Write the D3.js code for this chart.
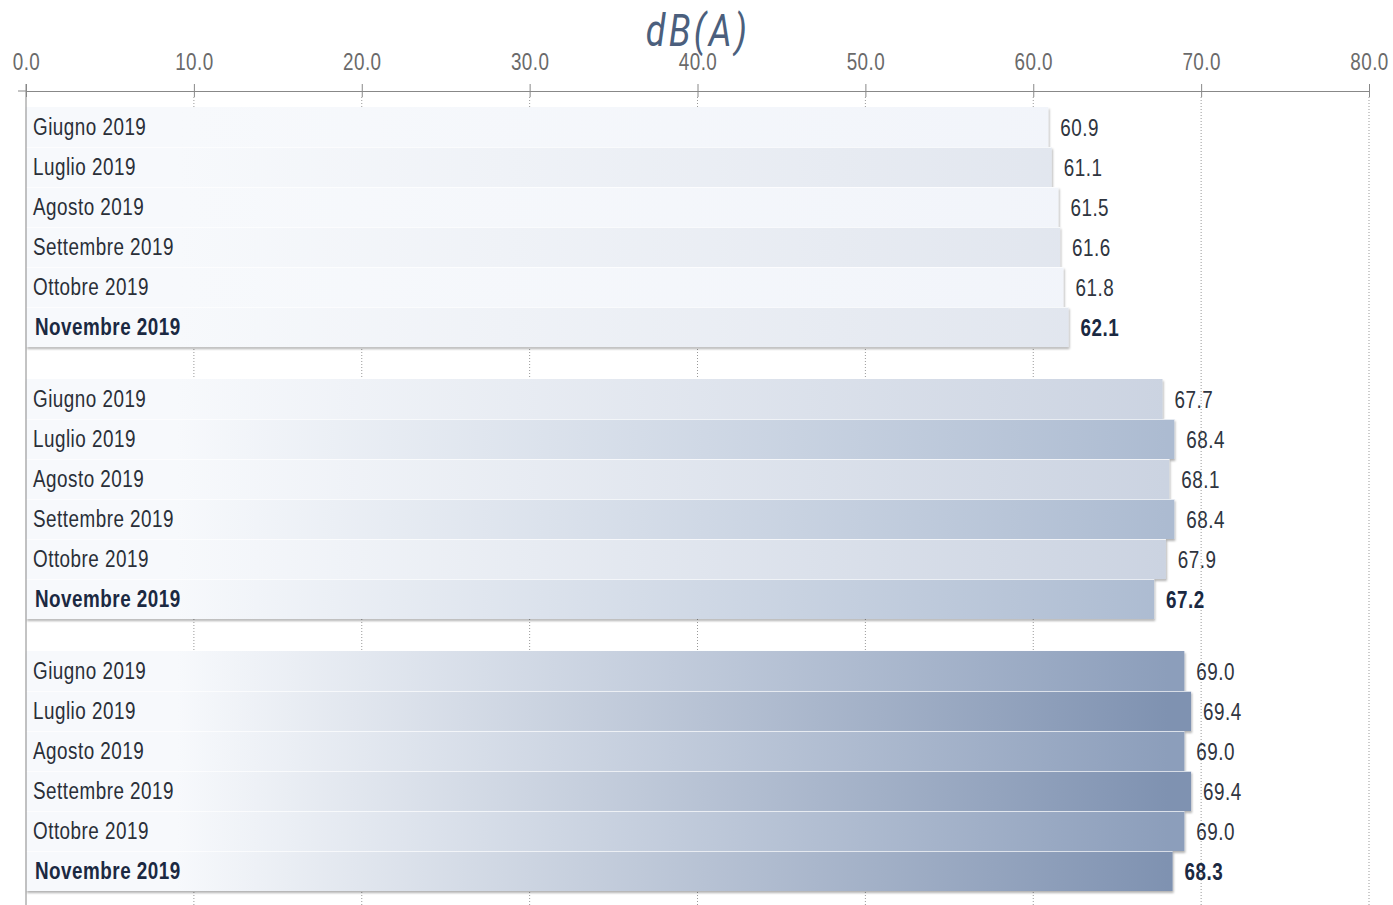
<!DOCTYPE html>
<html>
<head>
<meta charset="utf-8">
<script src="https://cdn.jsdelivr.net/npm/d3@7"></script>
<style>
  body { margin: 0; background: #fff; }
  svg text { font-family: "Liberation Sans", Arial, sans-serif; }
</style>
</head>
<body>
<svg width="1393" height="905"></svg>
<script>
// data
var months = ["Giugno 2019", "Luglio 2019", "Agosto 2019", "Settembre 2019", "Ottobre 2019", "Novembre 2019"];
var groups = ["g1", "g2", "g3"];
var values1 = [60.9, 61.1, 61.5, 61.6, 61.8, 62.1];
var values2 = [67.7, 68.4, 68.1, 68.4, 67.9, 67.2];
var values3 = [69.0, 69.4, 69.0, 69.4, 69.0, 68.3];
var tickValues = [0, 10, 20, 30, 40, 50, 60, 70, 80];
var unit = "dB(A)";

var series = [values1, values2, values3];
// end colours of the gradient per group: [odd rows, even rows]
var tones = [["#f1f4fa", "#dfe4ed"], ["#cbd3e1", "#acbbd1"], ["#8c9ebb", "#7f92b1"]];
var narrow = 0.82; // Liberation Sans squeezed to look like a narrow face

var svg = d3.select("svg");

var x = d3.scaleLinear().domain([0, 80]).range([26, 1369]);
var yGroup = d3.scaleBand().domain(groups).range([107, 891]).paddingInner(0.1176);
var yRow = d3.scaleBand().domain(months).range([0, yGroup.bandwidth()]);

var defs = svg.append("defs");
var shadow = defs.append("filter").attr("id", "shadow")
  .attr("x", "-2%").attr("y", "-10%").attr("width", "104%").attr("height", "130%");
shadow.append("feDropShadow").attr("dx", 1).attr("dy", 2).attr("stdDeviation", 1.2)
  .attr("flood-color", "#000").attr("flood-opacity", 0.3);

tones.forEach(function(pair, gi) {
  pair.forEach(function(c, k) {
    var grad = defs.append("linearGradient").attr("id", "grad" + gi + "_" + k)
      .attr("gradientUnits", "userSpaceOnUse")
      .attr("x1", x(9)).attr("x2", x(68)).attr("y1", 0).attr("y2", 0);
    grad.append("stop").attr("offset", 0).attr("stop-color", "#f7f9fc");
    grad.append("stop").attr("offset", 1).attr("stop-color", c);
  });
});

// title
svg.append("text")
  .attr("transform", "translate(698,46) scale(0.8,1)")
  .attr("text-anchor", "middle")
  .style("font-family", "Roboto, sans-serif")
  .style("font-style", "italic")
  .style("font-size", "45px")
  .style("letter-spacing", "4px")
  .style("fill", "#4b5f7d")
  .text(unit);

// gridlines
svg.append("g").selectAll("line")
  .data(tickValues.slice(1))
  .enter().append("line")
  .attr("x1", function(d) { return x(d); })
  .attr("x2", function(d) { return x(d); })
  .attr("y1", 97).attr("y2", 905)
  .attr("stroke", "#999").attr("stroke-width", 1)
  .attr("stroke-dasharray", "1,2");

// axis
var axis = svg.append("g")
  .attr("transform", "translate(0,91)")
  .call(d3.axisTop(x).tickValues(tickValues).tickFormat(d3.format(".1f"))
    .tickSize(7).tickSizeOuter(0).tickPadding(14));
axis.select(".domain").attr("stroke", "#888");
axis.selectAll(".tick line").attr("stroke", "#888").attr("y2", 6).attr("y1", -7);
axis.selectAll(".tick text")
  .attr("transform", "scale(" + narrow + ",1)")
  .style("font-family", "\"Liberation Sans\", sans-serif")
  .style("font-size", "23px")
  .style("letter-spacing", "0.5px")
  .style("fill", "#6a6a6a");
svg.append("line").attr("x1", 18).attr("x2", x(0)).attr("y1", 91).attr("y2", 91).attr("stroke", "#888");

// bars
var gs = svg.selectAll(".grp")
  .data(series)
  .enter().append("g")
  .attr("class", "grp")
  .attr("transform", function(d, i) { return "translate(0," + yGroup(groups[i]) + ")"; });

gs.each(function(vals, gi) {
  var g = d3.select(this);
  var rows = vals.map(function(v, i) { return {m: months[i], v: v, i: i}; });

  g.append("g").attr("filter", "url(#shadow)")
    .selectAll("rect")
    .data(rows)
    .enter().append("rect")
    .attr("x", x(0))
    .attr("y", function(d) { return yRow(d.m); })
    .attr("width", function(d) { return x(d.v) - x(0); })
    .attr("height", yRow.bandwidth())
    .attr("fill", function(d) { return "url(#grad" + gi + "_" + (d.i % 2) + ")"; });

  // thin light seams between bars
  g.selectAll(".seam")
    .data(rows.slice(1))
    .enter().append("line")
    .attr("class", "seam")
    .attr("x1", x(0))
    .attr("x2", function(d) { return x(d.v); })
    .attr("y1", function(d) { return yRow(d.m) + 0.5; })
    .attr("y2", function(d) { return yRow(d.m) + 0.5; })
    .attr("stroke", "#fff").attr("stroke-opacity", 0.7);

  g.selectAll(".lab")
    .data(rows)
    .enter().append("text")
    .attr("class", "lab")
    .attr("transform", function(d) {
      return "translate(" + (x(0) + (d.i == 5 ? 9 : 7)) + "," + (yRow(d.m) + yRow.bandwidth() / 2) + ") scale(" + narrow + ",1)";
    })
    .attr("dy", "0.35em")
    .style("font-size", "23px")
    .style("letter-spacing", "0.6px")
    .style("font-weight", function(d) { return d.i == 5 ? "bold" : "normal"; })
    .style("fill", function(d) { return d.i == 5 ? "#1b2942" : "#2a2f38"; })
    .text(function(d) { return d.m; });

  g.selectAll(".val")
    .data(rows)
    .enter().append("text")
    .attr("class", "val")
    .attr("transform", function(d) {
      return "translate(" + (x(d.v) + 12) + "," + (yRow(d.m) + yRow.bandwidth() / 2 + 1) + ") scale(" + narrow + ",1)";
    })
    .attr("dy", "0.35em")
    .style("font-size", "23px")
    .style("letter-spacing", "0.6px")
    .style("font-weight", function(d) { return d.i == 5 ? "bold" : "normal"; })
    .style("fill", function(d) { return d.i == 5 ? "#1b2942" : "#2f3540"; })
    .text(function(d) { return d3.format(".1f")(d.v); });
});

// left axis line
svg.append("line").attr("x1", x(0)).attr("x2", x(0)).attr("y1", 84).attr("y2", 905)
  .attr("stroke", "#888");
</script>
</body>
</html>
